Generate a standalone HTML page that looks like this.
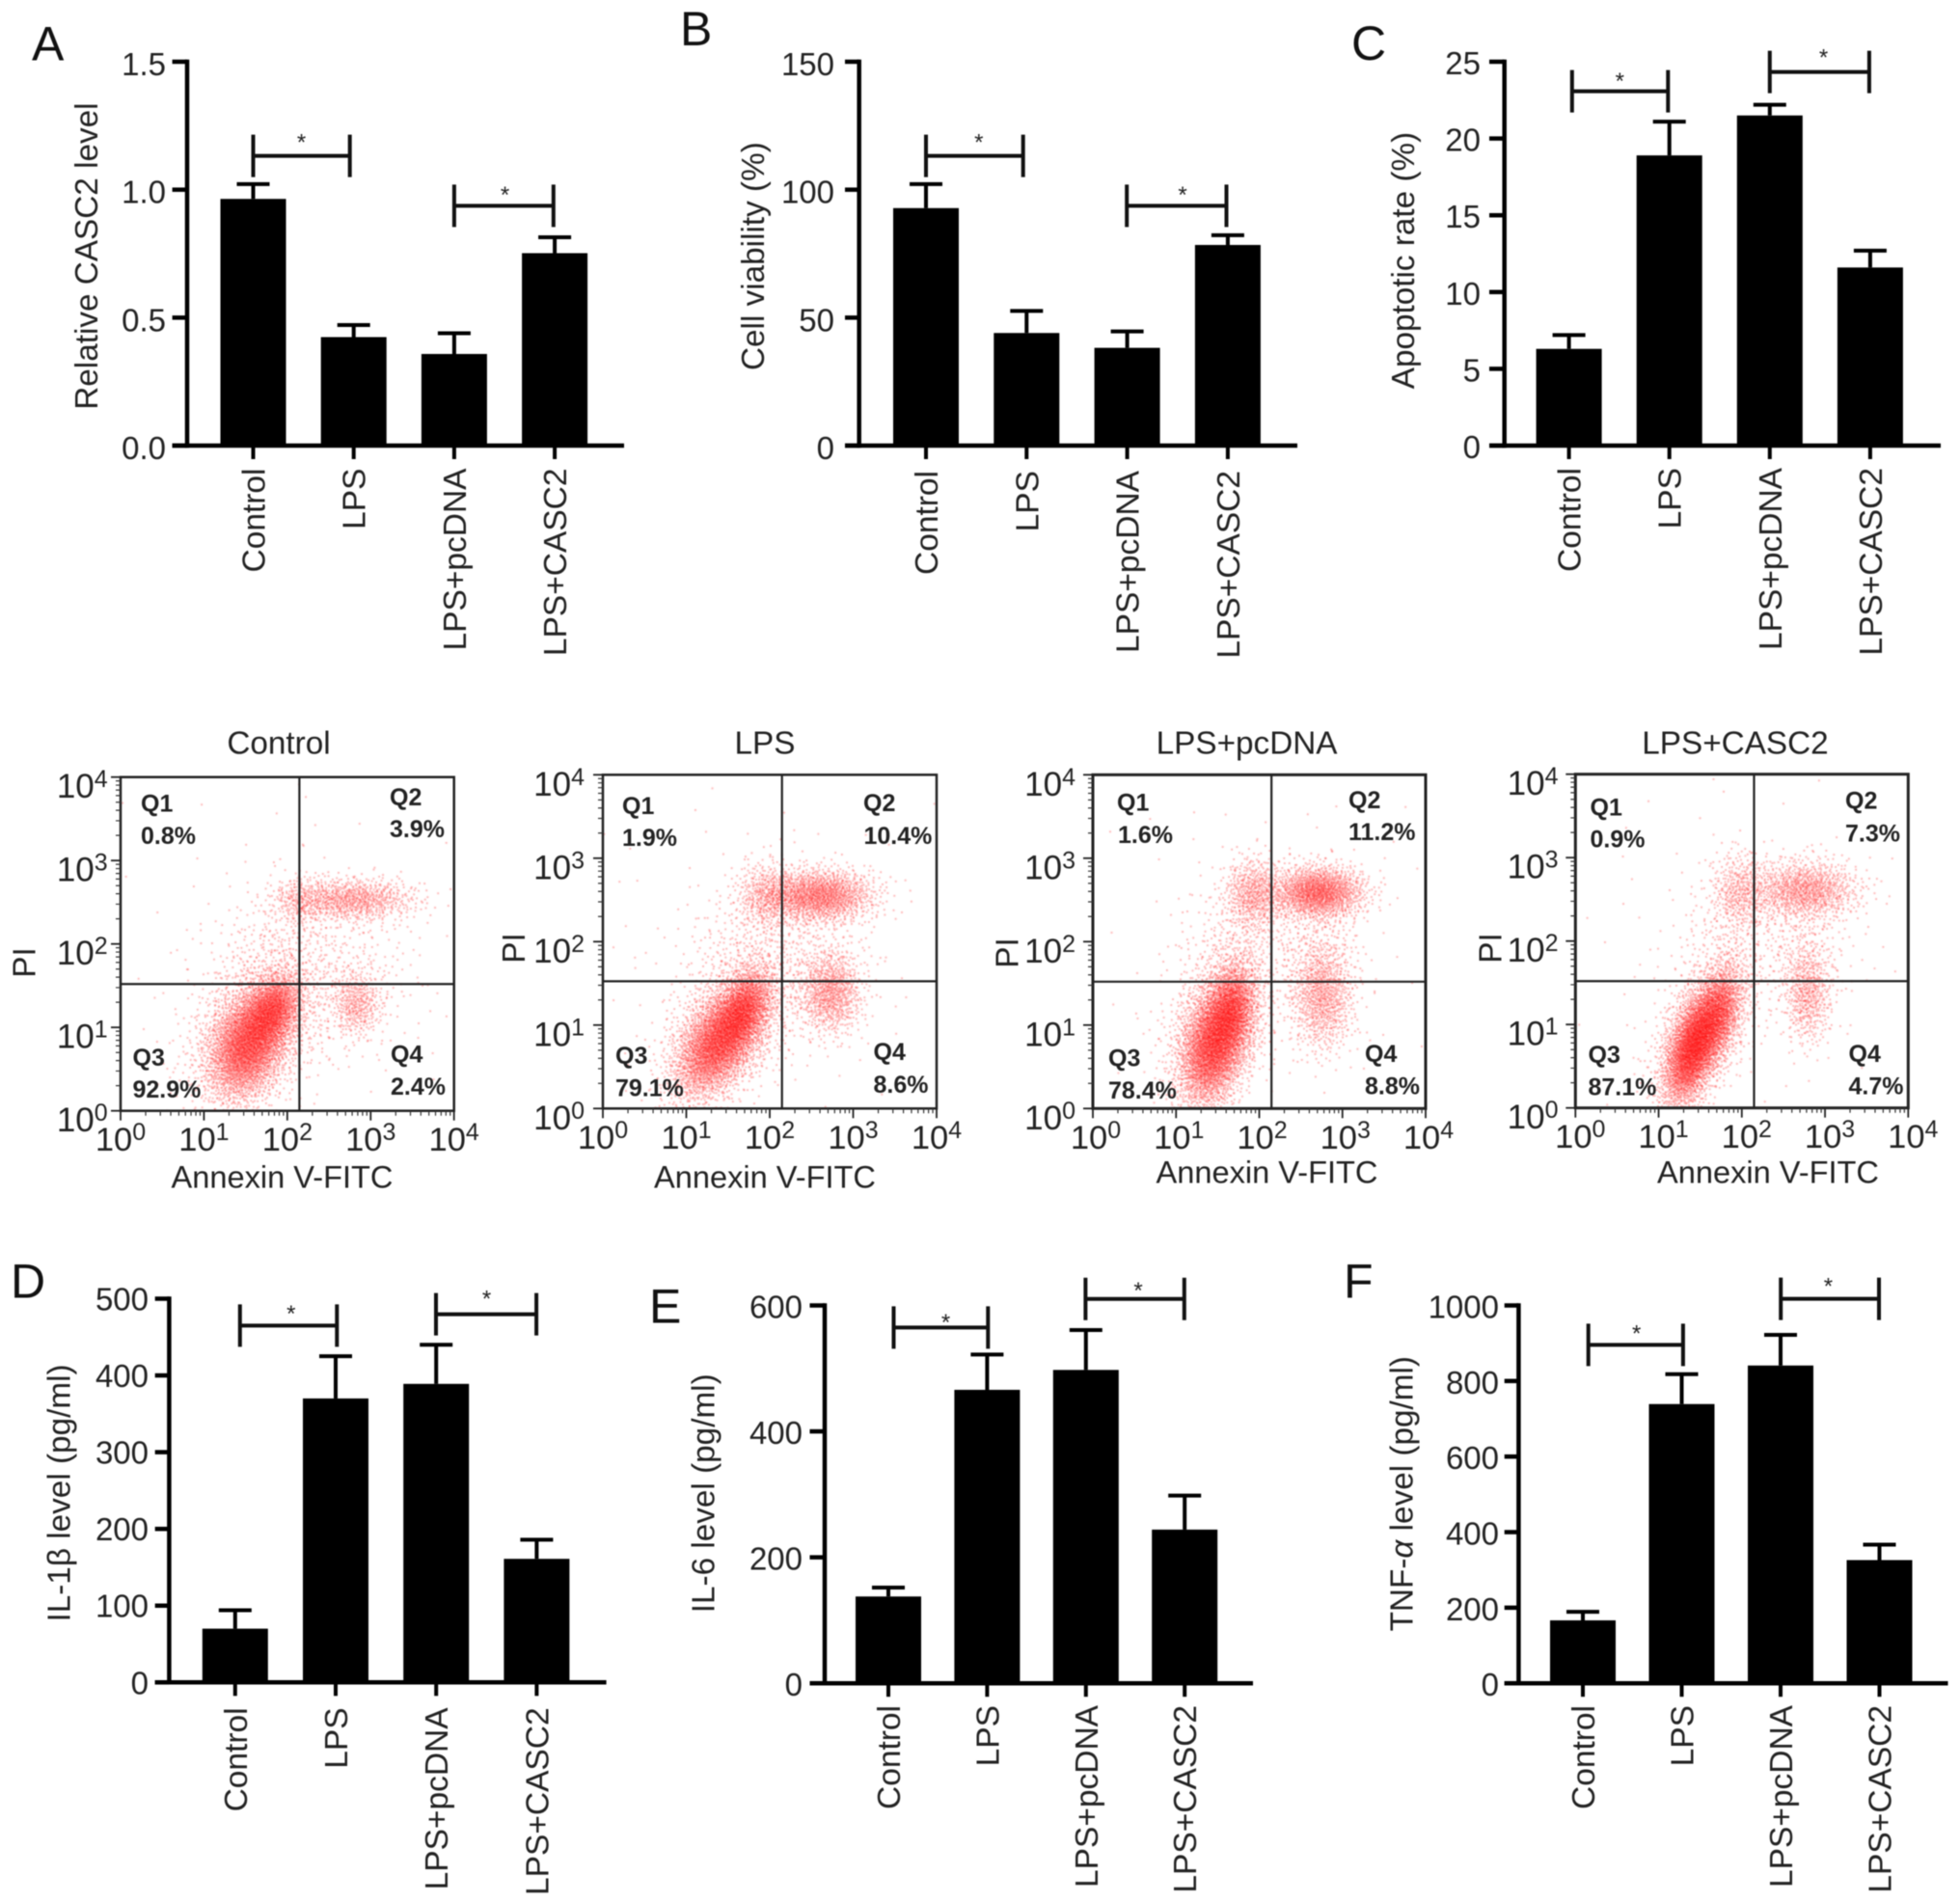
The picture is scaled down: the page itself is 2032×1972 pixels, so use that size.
<!DOCTYPE html>
<html lang="en">
<head>
<meta charset="utf-8">
<title>CASC2 LPS panels</title>
<style>
html,body{margin:0;padding:0;background:#fff;}
#figure{position:relative;width:2032px;height:1972px;overflow:hidden;background:#fff;filter:blur(0.6px);}
canvas{position:absolute;display:block;}
svg{position:absolute;left:0;top:0;}
text{font-family:"Liberation Sans",sans-serif;fill:#222;}
.letter{font-size:50px;fill:#111;}
.title{font-size:33.3px;}
.ftitle{font-size:33.3px;}
.fxtitle{font-size:32.6px;}
.q{font-size:25px;font-weight:bold;}
</style>
</head>
<body>
<div id="figure">
<canvas id="cloud0" style="left:125px;top:806px" width="346" height="346"></canvas>
<canvas id="cloud1" style="left:625px;top:803px" width="346" height="346"></canvas>
<canvas id="cloud2" style="left:1133px;top:803px" width="346" height="346"></canvas>
<canvas id="cloud3" style="left:1633px;top:803px" width="346" height="346"></canvas>
<svg id="chart" width="2032" height="1972" viewBox="0 0 2032 1972" xmlns="http://www.w3.org/2000/svg">
<g id="bars-root"></g>
<g id="flow-root"></g>

<text class="letter" x="33" y="62.5">A</text>
<text class="letter" x="705" y="47">B</text>
<text class="letter" x="1401" y="62">C</text>
<text class="letter" x="11" y="1345.6">D</text>
<text class="letter" x="673" y="1371.7">E</text>
<text class="letter" x="1393" y="1345.6">F</text>

<text class="title" text-anchor="middle" transform="translate(101,265.6) rotate(-90)">Relative CASC2 level</text>
<text class="title" text-anchor="middle" transform="translate(792,265.6) rotate(-90)">Cell viability (%)</text>
<text class="title" text-anchor="middle" transform="translate(1466,270) rotate(-90)">Apoptotic rate (%)</text>
<text class="title" text-anchor="middle" transform="translate(72.3,1548) rotate(-90)">IL-1β level (pg/ml)</text>
<text class="title" text-anchor="middle" transform="translate(740.4,1548.3) rotate(-90)">IL-6 level (pg/ml)</text>
<text class="title" text-anchor="middle" transform="translate(1464.6,1548.7) rotate(-90)">TNF-<tspan font-style="italic">α</tspan> level (pg/ml)</text>

<text class="ftitle" text-anchor="middle" x="289" y="781.7">Control</text>
<text class="ftitle" text-anchor="middle" x="793" y="781.7">LPS</text>
<text class="ftitle" text-anchor="middle" x="1292.6" y="781.7">LPS+pcDNA</text>
<text class="ftitle" text-anchor="middle" x="1799" y="781.7">LPS+CASC2</text>

<text class="fxtitle" text-anchor="middle" x="292.5" y="1231.7">Annexin V-FITC</text>
<text class="fxtitle" text-anchor="middle" x="793" y="1231.7">Annexin V-FITC</text>
<text class="fxtitle" text-anchor="middle" x="1313.5" y="1226.7">Annexin V-FITC</text>
<text class="fxtitle" text-anchor="middle" x="1833" y="1226.7">Annexin V-FITC</text>

<text class="ftitle" text-anchor="middle" transform="translate(36.7,998) rotate(-90)">PI</text>
<text class="ftitle" text-anchor="middle" transform="translate(544,983) rotate(-90)">PI</text>
<text class="ftitle" text-anchor="middle" transform="translate(1055.7,988) rotate(-90)">PI</text>
<text class="ftitle" text-anchor="middle" transform="translate(1556.5,983) rotate(-90)">PI</text>

<g>
<text class="q" x="146" y="841.7">Q1</text><text class="q" x="146" y="875">0.8%</text>
<text class="q" x="404" y="835">Q2</text><text class="q" x="404" y="868">3.9%</text>
<text class="q" x="137.5" y="1105">Q3</text><text class="q" x="137.5" y="1138">92.9%</text>
<text class="q" x="405" y="1101.7">Q4</text><text class="q" x="405" y="1135">2.4%</text>
</g>
<g>
<text class="q" x="645" y="844">Q1</text><text class="q" x="645" y="877">1.9%</text>
<text class="q" x="895" y="841">Q2</text><text class="q" x="895.5" y="875">10.4%</text>
<text class="q" x="638" y="1103">Q3</text><text class="q" x="638" y="1136.7">79.1%</text>
<text class="q" x="905.5" y="1099">Q4</text><text class="q" x="905.5" y="1133">8.6%</text>
</g>
<g>
<text class="q" x="1158" y="840.7">Q1</text><text class="q" x="1159" y="874">1.6%</text>
<text class="q" x="1398" y="838">Q2</text><text class="q" x="1398" y="871">11.2%</text>
<text class="q" x="1149" y="1105.7">Q3</text><text class="q" x="1149" y="1139">78.4%</text>
<text class="q" x="1415" y="1101">Q4</text><text class="q" x="1415" y="1134.3">8.8%</text>
</g>
<g>
<text class="q" x="1648.5" y="845.7">Q1</text><text class="q" x="1648.5" y="878.3">0.9%</text>
<text class="q" x="1913" y="838.7">Q2</text><text class="q" x="1913" y="872.3">7.3%</text>
<text class="q" x="1646.5" y="1102">Q3</text><text class="q" x="1646.5" y="1135.7">87.1%</text>
<text class="q" x="1916.5" y="1101">Q4</text><text class="q" x="1916.5" y="1134.3">4.7%</text>
</g>
</svg>
</div>

<script>
// ---------- bar chart data ----------
const groupLabels = ['Control', 'LPS', 'LPS+pcDNA', 'LPS+CASC2'];

const casc2Means = [0.964, 0.424, 0.358, 0.752];
const casc2Upper = [1.022, 0.471, 0.439, 0.814];
const casc2Ticks = ['0.0', '0.5', '1.0', '1.5'];
const casc2BracketLevels = [1.132, 0.937];

const viabilityMeans = [92.8, 44, 38.2, 78.4];
const viabilityUpper = [102.2, 52.6, 44.6, 82.2];
const viabilityTicks = ['0', '50', '100', '150'];
const viabilityBracketLevels = [113.2, 93.7];

const apoptosisMeans = [6.3, 18.9, 21.5, 11.6];
const apoptosisUpper = [7.2, 21.1, 22.2, 12.7];
const apoptosisTicks = ['0', '5', '10', '15', '20', '25'];
const apoptosisBracketLevels = [23.08, 24.33];

const il1bMeans = [70, 370, 389, 161];
const il1bUpper = [94, 425, 440, 186];
const il1bTicks = ['0', '100', '200', '300', '400', '500'];
const il1bBracketLevels = [465, 479.7];

const il6Means = [137.8, 466, 497.6, 244];
const il6Upper = [152, 522, 561, 298];
const il6Ticks = ['0', '200', '400', '600'];
const il6BracketLevels = [565, 610.4];

const tnfMeans = [166.5, 739, 841, 326];
const tnfUpper = [189, 818, 922, 367];
const tnfTicks = ['0', '200', '400', '600', '800', '1000'];
const tnfBracketLevels = [895.6, 1017.4];

// ---------- flow cytometry population summaries ----------
// One entry per visible population; values are log10 fluorescence and relative dot counts.
// Individual dots are not readable: each cloud is a deterministic low-discrepancy scatter of these summaries.
const flowExponents = [0, 1, 2, 3, 4];

const controlCloudLogX = [1.52, 1.82, 1.62, 2.78, 2.15, 1.85, 2.75, 2.82, 2];
const controlCloudLogY = [0.80, 1.22, 0.95, 2.54, 2.52, 1.85, 1.6, 1.28, 2];
const controlCloudSpreadX = [0.24, 0.17, 0.42, 0.38, 0.17, 0.42, 0.42, 0.15, 1.1];
const controlCloudSpreadY = [0.33, 0.22, 0.45, 0.13, 0.16, 0.42, 0.42, 0.2, 1.1];
const controlCloudTilt = [0.3, 0.3, 0.3, 0, 0, 0.2, 0, 0, 0];
const controlCloudCount = [3000, 1300, 1100, 800, 220, 350, 250, 350, 100];

const lpsCloudLogX = [1.38, 1.68, 1.5, 2.6, 1.98, 1.75, 2.55, 2.72, 2];
const lpsCloudLogY = [0.80, 1.2, 0.95, 2.56, 2.56, 1.85, 1.75, 1.4, 2];
const lpsCloudSpreadX = [0.26, 0.17, 0.4, 0.32, 0.2, 0.42, 0.35, 0.19, 1.1];
const lpsCloudSpreadY = [0.33, 0.25, 0.42, 0.16, 0.2, 0.42, 0.45, 0.25, 1.1];
const lpsCloudTilt = [0.5, 0.4, 0.4, 0, 0, 0.2, 0, 0, 0];
const lpsCloudCount = [2900, 1300, 1000, 1400, 450, 350, 200, 800, 120];

const pcdnaCloudLogX = [1.44, 1.66, 1.5, 2.7, 1.92, 1.75, 2.7, 2.75, 2];
const pcdnaCloudLogY = [0.75, 1.2, 0.95, 2.6, 2.58, 1.9, 1.85, 1.35, 2];
const pcdnaCloudSpreadX = [0.2, 0.15, 0.32, 0.28, 0.18, 0.38, 0.28, 0.19, 1.1];
const pcdnaCloudSpreadY = [0.36, 0.28, 0.45, 0.16, 0.22, 0.42, 0.42, 0.33, 1.1];
const pcdnaCloudTilt = [0.3, 0.2, 0.3, 0, 0, 0.2, 0, 0, 0];
const pcdnaCloudCount = [2900, 1400, 1000, 1500, 550, 350, 250, 850, 100];

const casc2CloudLogX = [1.4, 1.7, 1.5, 2.75, 1.97, 1.85, 2.75, 2.78, 2];
const casc2CloudLogY = [0.72, 1.13, 0.9, 2.62, 2.6, 1.95, 1.85, 1.38, 2];
const casc2CloudSpreadX = [0.17, 0.15, 0.3, 0.32, 0.18, 0.38, 0.3, 0.14, 1.1];
const casc2CloudSpreadY = [0.34, 0.3, 0.45, 0.18, 0.24, 0.45, 0.45, 0.3, 1.1];
const casc2CloudTilt = [0.5, 0.4, 0.5, 0, 0, 0.2, 0, 0, 0];
const casc2CloudCount = [2800, 1400, 1000, 1000, 400, 250, 250, 500, 100];

// Quadrant gate positions (log10 units)
const flowGateLogX = [2.145, 2.147, 2.147, 2.147];
const flowGateLogY = [1.52, 1.525, 1.52, 1.52];

// ---------- helpers ----------
const SVGNS = 'http://www.w3.org/2000/svg';
function svgEl(parent, tag, attrs, txt) {
  const e = document.createElementNS(SVGNS, tag);
  for (const k in attrs) e.setAttribute(k, attrs[k]);
  if (txt !== undefined) e.textContent = txt;
  parent.appendChild(e);
  return e;
}

// ---------- bar panels ----------
const barPanels = [
  {key:'a', means:casc2Means, upper:casc2Upper, ticks:casc2Ticks, levels:casc2BracketLevels, pairs:[[0,1],[2,3]],
   axisX:194, y0:462, yTop:64, xEnd:647, tickLeft:178.6, x0:262.5, step:104.2, labelEnd:172, tickDy:14, catTop:485.5,
   dx:[[0,-4],[0,-1.3]], star:[[312.5,144],[523.6,198.7]]},
  {key:'b', means:viabilityMeans, upper:viabilityUpper, ticks:viabilityTicks, levels:viabilityBracketLevels, pairs:[[0,1],[2,3]],
   axisX:890.7, y0:462, yTop:64, xEnd:1345, tickLeft:876, x0:960, step:104.3, labelEnd:865, tickDy:14, catTop:488,
   dx:[[0,-3.6],[-0.4,-1.4]], star:[[1014.8,144],[1226,198.7]]},
  {key:'c', means:apoptosisMeans, upper:apoptosisUpper, ticks:apoptosisTicks, levels:apoptosisBracketLevels, pairs:[[0,1],[2,3]],
   axisX:1559.7, y0:462, yTop:64, xEnd:2012, tickLeft:1544, x0:1626.6, step:104.1, labelEnd:1535, tickDy:13, catTop:485,
   dx:[[3.2,-1.4],[0,-1]], star:[[1679.3,80.4],[1890.5,55.8]]},
  {key:'d', means:il1bMeans, upper:il1bUpper, ticks:il1bTicks, levels:il1bBracketLevels, pairs:[[0,1],[2,3]],
   axisX:175.4, y0:1744.3, yTop:1346.5, xEnd:628.6, tickLeft:160.7, x0:243.8, step:104.2, labelEnd:154, tickDy:12, catTop:1770.4,
   dx:[[5,1.3],[-0.2,-0.3]], star:[[301.8,1358.7],[504.5,1343]]},
  {key:'e', means:il6Means, upper:il6Upper, ticks:il6Ticks, levels:il6BracketLevels, pairs:[[0,1],[2,3]],
   axisX:855, y0:1745.2, yTop:1353.5, xEnd:1299, tickLeft:839.5, x0:921, step:102.4, labelEnd:832, tickDy:13, catTop:1768,
   dx:[[5.5,0.9],[-0.4,-0.4]], star:[[980.5,1367.4],[1180,1334.3]]},
  {key:'f', means:tnfMeans, upper:tnfUpper, ticks:tnfTicks, levels:tnfBracketLevels, pairs:[[0,1],[2,3]],
   axisX:1574.4, y0:1745.2, yTop:1353.5, xEnd:2019.5, tickLeft:1559.7, x0:1641, step:102.5, labelEnd:1554, tickDy:13, catTop:1768,
   dx:[[5.7,1.4],[0.2,-0.5]], star:[[1696.7,1379],[1895.4,1330]]}
];

const barsRoot = document.getElementById('bars-root');
const BAR_W = 68, CAP_W = 34, AXIS_W = 4.5, MARK_W = 4;

barPanels.forEach(function (p) {
  const g = svgEl(barsRoot, 'g', {});
  
  

  const tickVals = p.ticks.map(Number);
  const yMax = tickVals[tickVals.length - 1];
  const yScale = function (v) { return p.y0 - (v / yMax) * (p.y0 - p.yTop); };
  const xScale = function (i) { return p.x0 + i * p.step; };

  // error bars first, so bars cover their stems
  p.means.forEach(function (m, i) {
    const cx = xScale(i);
    const stem = svgEl(g, 'line', {x1:cx, x2:cx, y1:yScale(m), y2:yScale(p.upper[i]), stroke:'#000', 'stroke-width':MARK_W});
    
    
    const cap = svgEl(g, 'line', {x1:cx - CAP_W / 2, x2:cx + CAP_W / 2, y1:yScale(p.upper[i]), y2:yScale(p.upper[i]), stroke:'#000', 'stroke-width':MARK_W});
    
    
    const bar = svgEl(g, 'rect', {x:cx - BAR_W / 2, y:yScale(m), width:BAR_W, height:p.y0 - yScale(m), fill:'#000'});
    
    
    const tick = svgEl(g, 'line', {x1:cx, x2:cx, y1:p.y0, y2:p.y0 + 14, stroke:'#000', 'stroke-width':MARK_W});
    
    
    const lab = svgEl(g, 'text', {'text-anchor':'end', 'font-size':33.5, transform:'translate(' + (cx + 12) + ',' + p.catTop + ') rotate(-90)'}, groupLabels[i]);
    
    
  });

  // y axis, x axis
  const yAxis = svgEl(g, 'line', {x1:p.axisX, x2:p.axisX, y1:p.yTop - AXIS_W / 2, y2:p.y0 + AXIS_W / 2, stroke:'#000', 'stroke-width':AXIS_W});
  
  
  const xAxis = svgEl(g, 'line', {x1:p.tickLeft, x2:p.xEnd, y1:p.y0, y2:p.y0, stroke:'#000', 'stroke-width':AXIS_W});
  
  

  p.ticks.forEach(function (t, i) {
    const y = yScale(tickVals[i]);
    const tick = svgEl(g, 'line', {x1:p.tickLeft, x2:p.axisX, y1:y, y2:y, stroke:'#000', 'stroke-width':AXIS_W});
    
    
    const lab = svgEl(g, 'text', {x:p.labelEnd, y:y + p.tickDy, 'text-anchor':'end', 'font-size':33}, t);
    
    
  });

  // significance brackets
  p.pairs.forEach(function (pair, i) {
    const xa = xScale(pair[0]) + p.dx[i][0], xb = xScale(pair[1]) + p.dx[i][1], y = yScale(p.levels[i]);
    const br = svgEl(g, 'path', {d:'M' + xa + ' ' + (y - 22) + 'V' + (y + 22) + 'M' + xa + ' ' + y + 'H' + xb + 'M' + xb + ' ' + (y - 22) + 'V' + (y + 22), stroke:'#111', 'stroke-width':MARK_W, fill:'none'});
    
    
    const st = svgEl(g, 'text', {x:p.star[i][0], y:p.star[i][1] + 11.5, 'text-anchor':'middle', 'font-size':24}, '*');
    
    
  });
});

// ---------- flow panels ----------
const flowPanels = [
  {key:'control', left:125, right:470.7, top:805.7, bottom:1151.7, yLabelEnd:111.7, xLabelShift:0, heavy:2.5,
   logX:controlCloudLogX, logY:controlCloudLogY, sx:controlCloudSpreadX, sy:controlCloudSpreadY, tilt:controlCloudTilt, count:controlCloudCount, canvas:[125,806]},
  {key:'lps', left:625, right:971, top:803.3, bottom:1149.3, yLabelEnd:606, xLabelShift:0, heavy:2.5,
   logX:lpsCloudLogX, logY:lpsCloudLogY, sx:lpsCloudSpreadX, sy:lpsCloudSpreadY, tilt:lpsCloudTilt, count:lpsCloudCount, canvas:[625,803]},
  {key:'lps-pcdna', left:1133, right:1478, top:803.3, bottom:1149.3, yLabelEnd:1115, xLabelShift:3, heavy:3,
   logX:pcdnaCloudLogX, logY:pcdnaCloudLogY, sx:pcdnaCloudSpreadX, sy:pcdnaCloudSpreadY, tilt:pcdnaCloudTilt, count:pcdnaCloudCount, canvas:[1133,803]},
  {key:'lps-casc2', left:1633.3, right:1978.3, top:802.7, bottom:1148.7, yLabelEnd:1615.5, xLabelShift:5, heavy:3,
   logX:casc2CloudLogX, logY:casc2CloudLogY, sx:casc2CloudSpreadX, sy:casc2CloudSpreadY, tilt:casc2CloudTilt, count:casc2CloudCount, canvas:[1633,803]}
];

function radicalInverse(i, base) {
  let f = 1, r = 0;
  while (i > 0) { f /= base; r += f * (i % base); i = Math.floor(i / base); }
  return r;
}

const flowRoot = document.getElementById('flow-root');
const decades = flowExponents[flowExponents.length - 1];
const minorSteps = [2, 3, 4, 5, 6, 7, 8, 9];

flowPanels.forEach(function (p, pi) {
  const xScale = function (lg) { return p.left + (lg / decades) * (p.right - p.left); };
  const yScale = function (lg) { return p.bottom - (lg / decades) * (p.bottom - p.top); };

  // dot cloud
  const cv = document.getElementById('cloud' + pi);
  const ctx = cv.getContext('2d');
  ctx.fillStyle = 'rgba(255,0,0,0.38)';
  let index = 1 + pi * 977;
  p.count.forEach(function (n, k) {
    for (let j = 0; j < n; j++, index++) {
      const u = Math.max(radicalInverse(index, 2), 1e-6), v = radicalInverse(index, 3);
      const r = Math.sqrt(-2 * Math.log(u));
      const z1 = r * Math.cos(2 * Math.PI * v), z2 = r * Math.sin(2 * Math.PI * v);
      const lx = p.logX[k] + p.sx[k] * z1;
      const ly = p.logY[k] + p.sy[k] * (p.tilt[k] * z1 + Math.sqrt(1 - p.tilt[k] * p.tilt[k]) * z2);
      ctx.fillRect(xScale(lx) - p.canvas[0], yScale(ly) - p.canvas[1], 1.7, 1.7);
    }
  });

  const g = svgEl(flowRoot, 'g', {});
  
  

  const box = svgEl(g, 'rect', {x:p.left, y:p.top, width:p.right - p.left, height:p.bottom - p.top, fill:'none', stroke:'#222', 'stroke-width':p.heavy});
  
  

  const gateV = svgEl(g, 'line', {x1:xScale(flowGateLogX[pi]), x2:xScale(flowGateLogX[pi]), y1:p.top, y2:p.bottom, stroke:'#222', 'stroke-width':2.2});
  
  
  const gateH = svgEl(g, 'line', {x1:p.left, x2:p.right, y1:yScale(flowGateLogY[pi]), y2:yScale(flowGateLogY[pi]), stroke:'#222', 'stroke-width':2.2});
  
  

  flowExponents.forEach(function (ex) {
    // major ticks
    const ty = svgEl(g, 'line', {x1:p.left - 10, x2:p.left, y1:yScale(ex), y2:yScale(ex), stroke:'#222', 'stroke-width':1.8});
    
    
    const tx = svgEl(g, 'line', {x1:xScale(ex), x2:xScale(ex), y1:p.bottom, y2:p.bottom + 10, stroke:'#222', 'stroke-width':1.8});
    
    

    // labels: 10 with superscript exponent
    const ly = svgEl(g, 'text', {x:p.yLabelEnd, y:yScale(ex) + 21.5, 'text-anchor':'end', 'font-size':35});
    
    
    svgEl(ly, 'tspan', {}, '10');
    svgEl(ly, 'tspan', {dy:-11, 'font-size':25}, String(ex));
    const lx = svgEl(g, 'text', {x:xScale(ex) + p.xLabelShift, y:p.bottom + 41.5, 'text-anchor':'middle', 'font-size':34.5});
    
    
    svgEl(lx, 'tspan', {}, '10');
    svgEl(lx, 'tspan', {dy:-11, 'font-size':25}, String(ex));

    // minor log ticks
    if (ex < decades) {
      let d = '';
      minorSteps.forEach(function (m) {
        const lg = ex + Math.log10(m);
        d += 'M' + (p.left - 5) + ' ' + yScale(lg) + 'H' + p.left;
        d += 'M' + xScale(lg) + ' ' + p.bottom + 'V' + (p.bottom + 5);
      });
      const minor = svgEl(g, 'path', {d:d, stroke:'#333', 'stroke-width':1.2, fill:'none'});
      
      
    }
  });
});
</script>
</body>
</html>
